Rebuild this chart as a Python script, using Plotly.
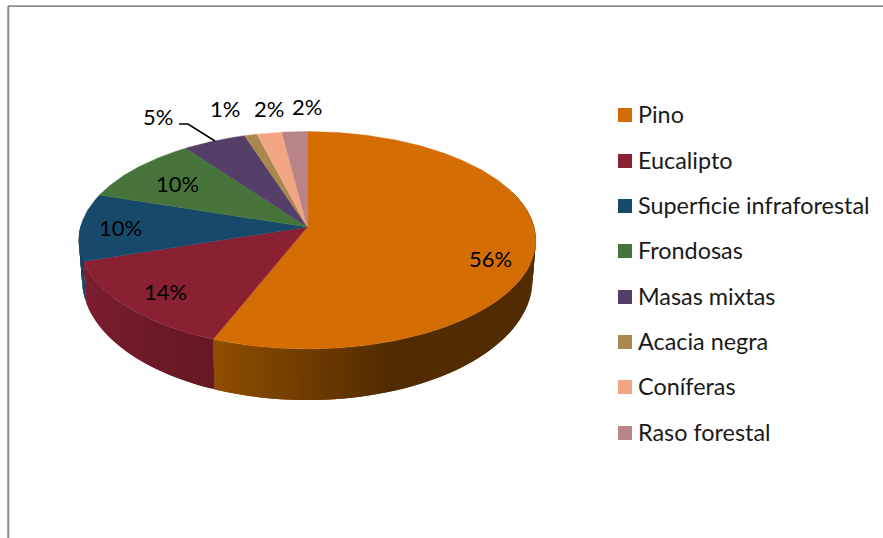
import numpy as np
import plotly.graph_objects as go

categories = ["Pino", "Eucalipto", "Superficie infraforestal", "Frondosas",
              "Masas mixtas", "Acacia negra", "Coníferas", "Raso forestal"]
values = [56, 14, 10, 10, 5, 1, 2, 2]
value_labels = ["56%", "14%", "10%", "10%", "5%", "1%", "2%", "2%"]
colors = ["#D46E04", "#892132", "#17496B", "#46743A", "#553E68", "#AA874F", "#F3A683", "#B98589"]
label_x = [490, 165, 120, 177, 158, 225, 269, 307]
label_y = [258.5, 291.5, 227.5, 183.5, 116.5, 108.5, 108.5, 106.5]
legend_y = [115, 161, 206, 251, 297, 342, 387, 433]

FONT = "Lato"
K = 0.1218
TOP = dict(cx=307.3, cy=227.0, A=226.8, B=107.1)
BOT = dict(cx=307.3, cy=265.0, A=223.5, B=118.6)


def project(theta_deg, d):
    t = np.radians(theta_deg)
    u, v = np.sin(t), np.cos(t)
    w = 1 + K * v
    return d["cx"] + d["A"] * u / w, d["cy"] - d["B"] * v / w


def mix(a, b, f):
    return "rgb(%d,%d,%d)" % tuple(round(a[i] + (b[i] - a[i]) * f) for i in range(3))


edges = np.concatenate([[0], np.cumsum(values)]) * 3.6
side_ramps = {
    0: ((145, 78, 0), (82, 44, 0), 201.6, 161.0),
    1: ((126, 31, 50), (102, 24, 36), 252.0, 201.6),
    2: ((21, 64, 95), (21, 64, 95), 272.0, 252.0),
}

fig = go.Figure()

# Rim of the pie, as narrow strips so that the shading can vary
for idx, (c0, c1, th_a, th_b) in side_ramps.items():
    start = max(edges[idx], 70.0)
    stop = min(edges[idx + 1], 272.0)
    for th in np.arange(start, stop, 1.0):
        th2 = min(th + 2.0, stop)
        f = np.clip((th_a - th) / max(th_a - th_b, 1e-6), 0, 1)
        col = mix(c0, c1, f)
        xt, yt = project(np.array([th, th2]), TOP)
        xb, yb = project(np.array([th2, th]), BOT)
        fig.add_trace(go.Scatter(
            x=np.r_[xt, xb, xt[0]], y=np.r_[yt, yb, yt[0]],
            mode="lines", fill="toself", fillcolor=col,
            line=dict(width=0), hoverinfo="skip",
            name=categories[idx] + " side"))

# Top faces
for i, cat in enumerate(categories):
    th = np.linspace(edges[i], edges[i + 1], max(int(values[i] * 6), 6))
    xs, ys = project(th, TOP)
    fig.add_trace(go.Scatter(
        x=np.r_[TOP["cx"], xs, TOP["cx"]], y=np.r_[TOP["cy"], ys, TOP["cy"]],
        mode="lines", fill="toself", fillcolor=colors[i],
        line=dict(color=colors[i], width=0.4), name=cat, hoverinfo="name"))

# Legend keys
fig.add_trace(go.Scatter(
    x=[625] * len(categories), y=legend_y, mode="markers",
    marker=dict(symbol="square", size=14, color=colors, line=dict(width=0)),
    hoverinfo="skip", name="legend"))

# Leader line of the 5% label
fig.add_trace(go.Scatter(x=[179, 188, 215], y=[124, 124, 141], mode="lines",
                         line=dict(color="#000000", width=1.5), hoverinfo="skip", name="leader"))

ann = []
for t, x, y in zip(value_labels, label_x, label_y):
    ann.append(dict(x=x, y=y, text=t, showarrow=False, xanchor="center", yanchor="middle",
                    font=dict(family=FONT, size=22, color="#000000")))
for t, y in zip(categories, legend_y):
    ann.append(dict(x=638, y=y - 0.7, text=t, showarrow=False, xanchor="left", yanchor="middle",
                    xshift=-2, font=dict(family=FONT, size=23.4, color="#1a1a1a")))

shapes = [
    dict(type="line", x0=9.7, x1=9.7, y0=7, y1=538, line=dict(color="#e2e2e2", width=1), layer="below"),
    dict(type="line", x0=8.2, x1=8.2, y0=6, y1=538, line=dict(color="#8c8c8c", width=1.8), layer="below"),
    dict(type="line", x0=8, x1=883, y0=6.2, y1=6.2, line=dict(color="#8c8c8c", width=1.8), layer="below"),
]

fig.update_layout(
    width=883, height=538, margin=dict(l=0, r=0, t=0, b=0),
    autosize=False, paper_bgcolor="white", plot_bgcolor="white", showlegend=False,
    xaxis=dict(range=[0, 883], visible=False, fixedrange=True),
    yaxis=dict(range=[538, 0], visible=False, fixedrange=True),
    annotations=ann, shapes=shapes,
)
fig.write_html("out.html", config=dict(displayModeBar=False),
               post_script="document.body.style.margin='0';document.documentElement.style.overflow='hidden';")
